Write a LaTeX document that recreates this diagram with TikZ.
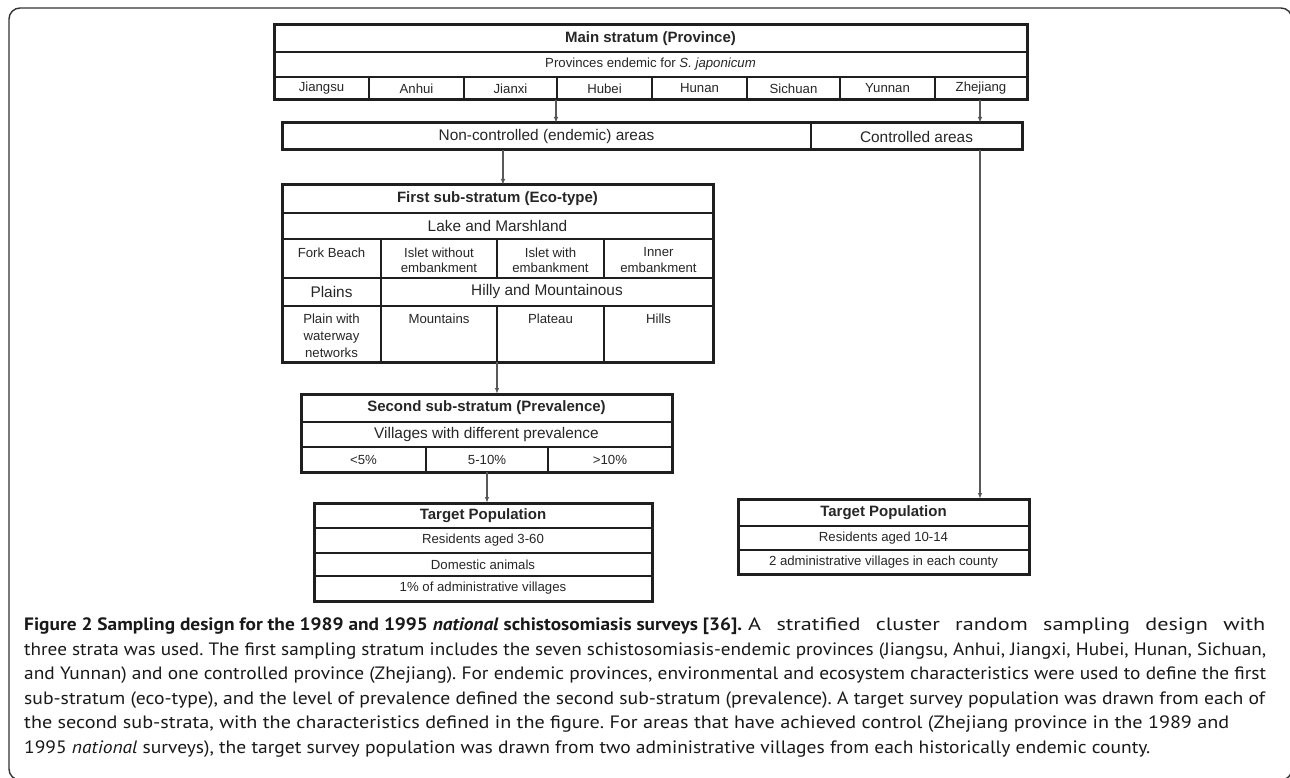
\documentclass[tikz,border=0pt]{standalone}
\usepackage{fontspec}
\setmainfont{Liberation Sans}
\newfontfamily\capfont[FakeStretch=1.05]{PT Sans}
\usetikzlibrary{arrows.meta}
\newcommand\cellbox[7]{\node[cell,#6,minimum width={#4-#2},minimum height={#5-#3}] (#1) at ({(#2+#4)/2},{(#3+#5)/2}) {#7};}
\newcommand\fitline[2]{\resizebox{#1}{\height}{#2}}
\frenchspacing
\begin{document}
\begin{tikzpicture}[x=1pt,y=-1pt,
  cell/.style={draw=black!88, line width=2pt, inner sep=0pt, outer sep=0pt, align=center, font=\fontsize{13.2}{15}\selectfont, text=black!85},
  txt/.style={inner sep=0pt, align=center, font=\fontsize{13.2}{15.5}\selectfont, text=black!85},
  frame/.style={draw=black!88, line width=3pt},
  conn/.style={draw=black!65, line width=1.3pt, -{Latex[length=6pt,width=4.5pt]}},
  hd/.style={font=\fontsize{15}{17}\selectfont\bfseries},
  big/.style={font=\fontsize{15.4}{17}\selectfont},
  captxt/.style={inner sep=0pt, font=\capfont\fontsize{17.9}{20}\selectfont, text=black!90},
]
\useasboundingbox (0,0) rectangle (1290,778);
\draw[black!80, line width=1.4pt, rounded corners=11pt] (9,8) rectangle (1292,780);

% main stratum
\cellbox{mt}{274}{25}{1027}{52}{hd}{Main stratum (Province)}
\cellbox{pe}{274}{52}{1027}{77}{}{Provinces endemic for \textit{S. japonicum}}
\cellbox{p1}{274}{77}{369}{100}{}{Jiangsu}
\cellbox{p2}{369}{77}{464}{100}{}{Anhui}
\cellbox{p3}{464}{77}{557}{100}{}{Jianxi}
\cellbox{p4}{557}{77}{652}{100}{}{Hubei}
\cellbox{p5}{652}{77}{747}{100}{}{Hunan}
\cellbox{p6}{747}{77}{840}{100}{}{Sichuan}
\cellbox{p7}{840}{77}{935}{100}{}{Yunnan}
\cellbox{p8}{935}{77}{1027}{100}{}{Zhejiang}
\draw[frame] (mt.north west) rectangle (p8.south east);

% areas
\cellbox{nc}{282}{123}{811}{150}{big}{Non-controlled (endemic) areas}
\cellbox{ca}{811}{123}{1022}{150}{big}{Controlled areas}
\draw[frame] (nc.north west) rectangle (ca.south east);

% first sub-stratum
\cellbox{fs}{282}{185}{713}{213}{hd}{First sub-stratum (Eco-type)}
\cellbox{lm}{282}{213}{713}{239}{big}{Lake and Marshland}
\cellbox{fb}{282}{239}{381}{278}{}{}
\cellbox{iw}{381}{239}{497}{278}{}{}
\cellbox{ie}{497}{239}{604}{278}{}{}
\cellbox{ib}{604}{239}{713}{278}{}{}
\node[txt, anchor=north] (fbT) at ([yshift=-8.5pt]fb.north) {Fork Beach};
\node[txt, anchor=north] (iwT) at ([yshift=-8.5pt]iw.north) {Islet without\\embankment};
\node[txt, anchor=north] (ieT) at ([yshift=-8.5pt]ie.north) {Islet with\\embankment};
\node[txt, anchor=north] (ibT) at ([yshift=-8.5pt]ib.north) {Inner\\embankment};
\cellbox{pl}{282}{278}{381}{306}{big}{Plains}
\cellbox{hm}{381}{278}{713}{306}{big}{Hilly and Mountainous}
\cellbox{pw}{282}{306}{381}{362}{}{}
\cellbox{mo}{381}{306}{497}{362}{}{}
\cellbox{pt}{497}{306}{604}{362}{}{}
\cellbox{hi}{604}{306}{713}{362}{}{}
\node[txt, anchor=north, font=\fontsize{13.2}{17}\selectfont] (pwT) at ([yshift=-8pt]pw.north) {Plain with\\waterway\\networks};
\node[txt, anchor=north] (moT) at ([yshift=-8pt]mo.north) {Mountains};
\node[txt, anchor=north] (ptT) at ([yshift=-8pt]pt.north) {Plateau};
\node[txt, anchor=north] (hiT) at ([yshift=-8pt]hi.north) {Hills};
\draw[frame] (fs.north west) rectangle (hi.south east);

% second sub-stratum
\cellbox{ss}{301}{394}{672}{422}{hd}{Second sub-stratum (Prevalence)}
\cellbox{vd}{301}{422}{672}{447}{big}{Villages with different prevalence}
\cellbox{v1}{301}{447}{426}{472}{}{<5\%}
\cellbox{v2}{426}{447}{548}{472}{}{5-10\%}
\cellbox{v3}{548}{447}{672}{472}{}{>10\%}
\draw[frame] (ss.north west) rectangle (v3.south east);

% target population (left)
\cellbox{tp}{314}{503}{652}{528}{hd}{Target Population}
\cellbox{t1}{314}{528}{652}{553}{}{Residents aged 3-60}
\cellbox{t2}{314}{553}{652}{576}{}{Domestic animals}
\cellbox{t3}{314}{576}{652}{601}{}{1\% of administrative villages}
\draw[frame] (tp.north west) rectangle (t3.south east);

% target population (right)
\cellbox{rp}{738}{499}{1029}{526}{hd}{Target Population}
\cellbox{r1}{738}{526}{1029}{550}{}{Residents aged 10-14}
\cellbox{r2}{738}{550}{1029}{574}{}{2 administrative villages in each county}
\draw[frame] (rp.north west) rectangle (r2.south east);

% connectors
\coordinate (a1) at (556,100);
\coordinate (a2) at (980,100);
\coordinate (a3) at (503,150);
\coordinate (a4) at (497,362);
\coordinate (a5) at (487,472);
\coordinate (a6) at (980,150);
\draw[conn] (a1) -- (a1 |- nc.north);
\draw[conn] (a2) -- (a2 |- ca.north);
\draw[conn] (a3) -- (a3 |- fs.north);
\draw[conn] (a4) -- (a4 |- ss.north);
\draw[conn] (a5) -- (a5 |- tp.north);
\draw[conn] (a6) -- (a6 |- rp.north);

% caption
\node[captxt, anchor=base west] (c1) at (24,630) {\makebox[1241pt][l]{\fitline{718pt}{\textbf{Figure 2 Sampling design for the 1989 and 1995 \textit{national} schistosomiasis surveys [36].}}\hspace{6pt}\fitline{517pt}{\spaceskip=13pt A stratified cluster random sampling design with}}};
\node[captxt, anchor=base west] (c2) at (24,655) {\fitline{1242pt}{three strata was used. The first sampling stratum includes the seven schistosomiasis-endemic provinces (Jiangsu, Anhui, Jiangxi, Hubei, Hunan, Sichuan,}};
\node[captxt, anchor=base west] (c3) at (24,679) {\fitline{1242pt}{and Yunnan) and one controlled province (Zhejiang). For endemic provinces, environmental and ecosystem characteristics were used to define the first}};
\node[captxt, anchor=base west] (c4) at (24,704) {\fitline{1241pt}{sub-stratum (eco-type), and the level of prevalence defined the second sub-stratum (prevalence). A target survey population was drawn from each of}};
\node[captxt, anchor=base west] (c5) at (24,728) {\fitline{1205pt}{the second sub-strata, with the characteristics defined in the figure. For areas that have achieved control (Zhejiang province in the 1989 and}};
\node[captxt, anchor=base west] (c6) at (24,753) {\fitline{1126pt}{1995 \textit{national} surveys), the target survey population was drawn from two administrative villages from each historically endemic county.}};
\end{tikzpicture}
\end{document}
